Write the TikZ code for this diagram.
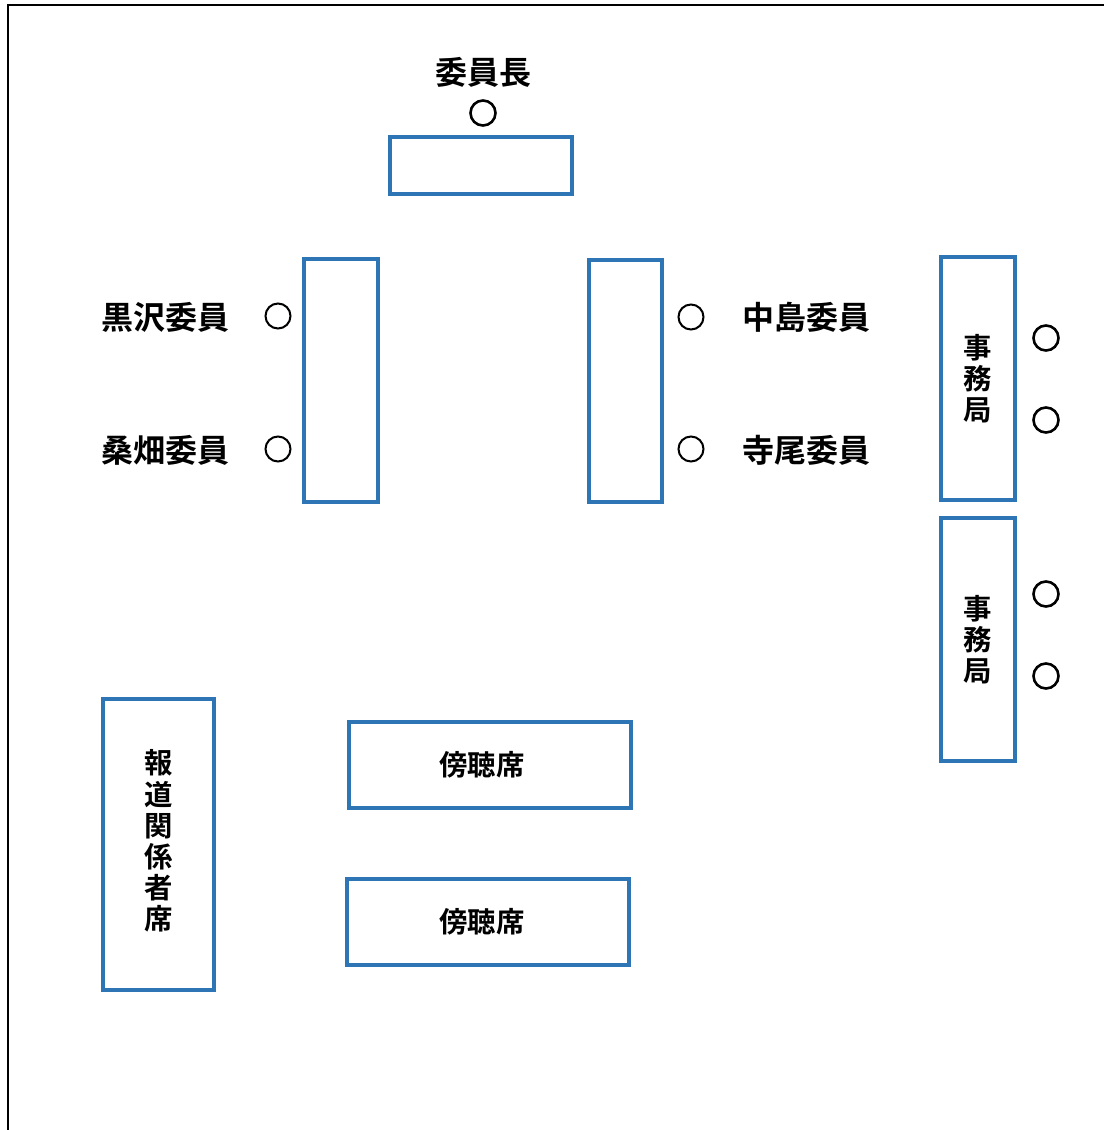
\documentclass[tikz,border=0pt]{standalone}
\usepackage{fontspec}
\setmainfont{Noto Sans CJK JP}[BoldFont={Noto Sans CJK JP Bold}]
\usepackage{xcolor}
\definecolor{deskblue}{HTML}{2E75B6}
\usepackage{tikz}

\begin{document}
\begin{tikzpicture}[x=0.5pt,y=-0.5pt,font=\bfseries]
              \tikzstyle{desk}=[rectangle,draw=deskblue,line width=2pt,inner sep=0pt,align=center]
              \tikzstyle{seat}=[circle,draw=black,line width=1pt,minimum size=12.5pt,inner sep=0pt]
              \tikzstyle{oseat}=[seat,line width=1.3pt]
              \tikzstyle{lbl}=[font=\fontsize{16}{16}\selectfont\bfseries,inner sep=0pt]
              \tikzstyle{vtext}=[font=\fontsize{14.2}{15.6}\selectfont\bfseries,align=center]

              \useasboundingbox (0,0) rectangle (1104,1130);
              \draw[line width=1pt] (8,1130) -- (8,5) -- (1104,5);

              % chairman
              \node[lbl]   (chairlbl) at (483,72)    {委員長};
              \node[oseat] (chairseat) at (483,113)  {};
              \node[desk,minimum width=91pt,minimum height=28.5pt] (chair) at (481,165.5) {};

              % committee members
              \node[desk,minimum width=37pt,minimum height=121.5pt] (ldesk) at (341,380.5) {};
              \node[desk,minimum width=36.5pt,minimum height=121pt] (rdesk) at (625.5,381) {};
              \node[seat] (kuro)   at (278,316) {};
              \node[seat] (kuwa)   at (278,449) {};
              \node[seat] (naka)   at (691,317) {};
              \node[seat] (terao)  at (691,449) {};
              \node[lbl] (kurolbl)  at (165,317) {黒沢委員};
              \node[lbl] (kuwalbl)  at (165,450) {桑畑委員};
              \node[lbl] (nakalbl)  at (806,317) {中島委員};
              \node[lbl] (teraolbl) at (806,450) {寺尾委員};

              % secretariat
              \node[desk,vtext,minimum width=37pt,minimum height=121.5pt] (office1) at (978,378.5) {事\\務\\局};
              \node[desk,vtext,minimum width=37pt,minimum height=121.5pt] (office2) at (978,639.5) {事\\務\\局};
              \node[oseat] (os1) at (1046,338) {};
              \node[oseat] (os2) at (1046,420) {};
              \node[oseat] (os3) at (1046,594) {};
              \node[oseat] (os4) at (1046,676) {};

              % press and public
              \node[desk,minimum width=55.5pt,minimum height=145.5pt,
                    label={[vtext,yshift=1.7pt]center:報\\道\\関\\係\\者\\席}] (press) at (158.5,844.5) {};
              \node[desk,minimum width=141pt,minimum height=43pt,
                    label={[vtext,xshift=-4pt]center:傍聴席}] (gallery1) at (490,765) {};
              \node[desk,minimum width=141pt,minimum height=43pt,
                    label={[vtext,xshift=-3pt]center:傍聴席}] (gallery2) at (488,922) {};

\end{tikzpicture}
\end{document}
